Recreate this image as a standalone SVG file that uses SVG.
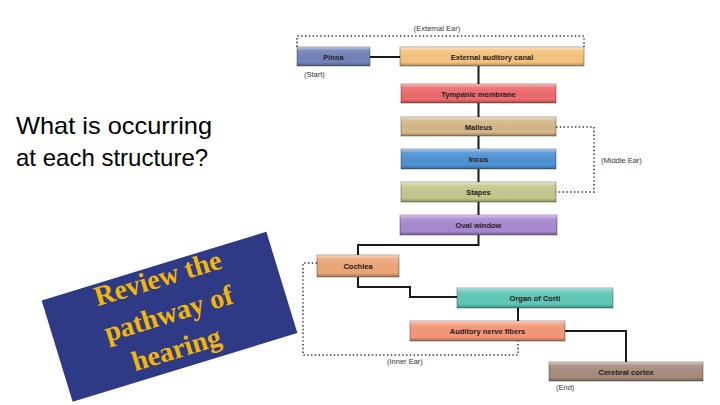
<svg xmlns="http://www.w3.org/2000/svg" width="720" height="405" viewBox="0 0 720 405">
<defs>
<linearGradient id="bevel" x1="0" y1="0" x2="0" y2="1">
<stop offset="0" stop-color="#fff" stop-opacity="0.55"/>
<stop offset="0.18" stop-color="#fff" stop-opacity="0.1"/>
<stop offset="0.8" stop-color="#000" stop-opacity="0"/>
<stop offset="1" stop-color="#000" stop-opacity="0.3"/>
</linearGradient>
<style>
.box{stroke:#000;stroke-opacity:0.35;stroke-width:1}
.shade{fill:url(#bevel)}
.lbl{font-family:"Liberation Sans",Arial,sans-serif;font-weight:bold;font-size:7.5px;fill:#2a2020;text-anchor:middle}
.note{font-family:"Liberation Sans",Arial,sans-serif;font-size:7.5px;fill:#333}
.conn{fill:none;stroke:#1a1a1a;stroke-width:2}
.dot{fill:none;stroke:#333;stroke-width:1.5;stroke-dasharray:1.4 2.4}
.q{font-family:"Liberation Sans",Arial,sans-serif;font-size:24px;fill:#000}
.rev{font-family:"Liberation Serif","Times New Roman",serif;font-weight:bold;font-size:28px;fill:#f2b705;text-anchor:middle}
</style>
</defs>
<rect width="720" height="405" fill="#fff"/>

<text class="q" x="16" y="134" textLength="196" lengthAdjust="spacingAndGlyphs">What is occurring</text>
<text class="q" x="16" y="166">at each structure?</text>

<g id="review" transform="translate(169.5 316.75) rotate(-17)">
<rect x="-117.5" y="-53" width="235" height="106" fill="#2f3a86"/>
<text class="rev" x="0" y="-31">Review the</text>
<text class="rev" x="0" y="6">pathway of</text>
<text class="rev" x="-3" y="42">hearing</text>
</g>

<g id="connectors">
<path class="conn" d="M370 57 H400"/>
<path class="conn" d="M478.5 66 V84 M478.5 103 V117 M478.5 136 V149 M478.5 169 V182 M478.5 202 V215"/>
<path class="conn" d="M478.5 235 V245 H358 V255"/>
<path class="conn" d="M358 277 V287 H410 V297 H457"/>
<path class="conn" d="M518 308 V321"/>
<path class="conn" d="M565 331 H626 V362"/>
<path class="dot" d="M297 47 V36 H584 V47"/>
<path class="dot" d="M556 127 H594 V192 H556"/>
<path class="dot" d="M317 263 H303 V355 H518 V341"/>
</g>

<g id="labels">
<text class="note" x="437" y="31" text-anchor="middle">(External Ear)</text>
<text class="note" x="304" y="77">(Start)</text>
<text class="note" x="601" y="163">(Middle Ear)</text>
<text class="note" x="387" y="364">(Inner Ear)</text>
<text class="note" x="556" y="390">(End)</text>
</g>

<g id="pinna"><rect class="box" x="297" y="47" width="73" height="19" fill="#7383b9"/><rect class="shade" x="297" y="47" width="73" height="19"/><text class="lbl" x="333.5" y="59.5">Pinna</text></g>
<g id="canal"><rect class="box" x="400" y="47" width="184" height="19" fill="#f6c47f"/><rect class="shade" x="400" y="47" width="184" height="19"/><text class="lbl" x="492" y="59.5">External auditory canal</text></g>
<g id="tympanic"><rect class="box" x="401" y="84" width="155" height="19" fill="#ef6b6e"/><rect class="shade" x="401" y="84" width="155" height="19"/><text class="lbl" x="478.5" y="96.5">Tympanic membrane</text></g>
<g id="malleus"><rect class="box" x="401" y="117" width="155" height="19" fill="#d6b98a"/><rect class="shade" x="401" y="117" width="155" height="19"/><text class="lbl" x="478.5" y="129.5">Malleus</text></g>
<g id="incus"><rect class="box" x="401" y="149" width="155" height="20" fill="#4e93d6"/><rect class="shade" x="401" y="149" width="155" height="20"/><text class="lbl" x="478.5" y="162">Incus</text></g>
<g id="stapes"><rect class="box" x="401" y="182" width="155" height="20" fill="#c6c98d"/><rect class="shade" x="401" y="182" width="155" height="20"/><text class="lbl" x="478.5" y="195">Stapes</text></g>
<g id="oval"><rect class="box" x="400" y="215" width="157" height="20" fill="#a98ad2"/><rect class="shade" x="400" y="215" width="157" height="20"/><text class="lbl" x="478.5" y="228">Oval window</text></g>
<g id="cochlea"><rect class="box" x="317" y="255" width="82" height="22" fill="#eea779"/><rect class="shade" x="317" y="255" width="82" height="22"/><text class="lbl" x="358" y="269">Cochlea</text></g>
<g id="corti"><rect class="box" x="457" y="288" width="156" height="20" fill="#5fc9b9"/><rect class="shade" x="457" y="288" width="156" height="20"/><text class="lbl" x="535" y="301">Organ of Corti</text></g>
<g id="nerve"><rect class="box" x="410" y="321" width="155" height="20" fill="#f69878"/><rect class="shade" x="410" y="321" width="155" height="20"/><text class="lbl" x="487.5" y="334">Auditory nerve fibers</text></g>
<g id="cortex"><rect class="box" x="549" y="362" width="154" height="19" fill="#a78d7e"/><rect class="shade" x="549" y="362" width="154" height="19"/><text class="lbl" x="626" y="374.5">Cerebral cortex</text></g>
</svg>
